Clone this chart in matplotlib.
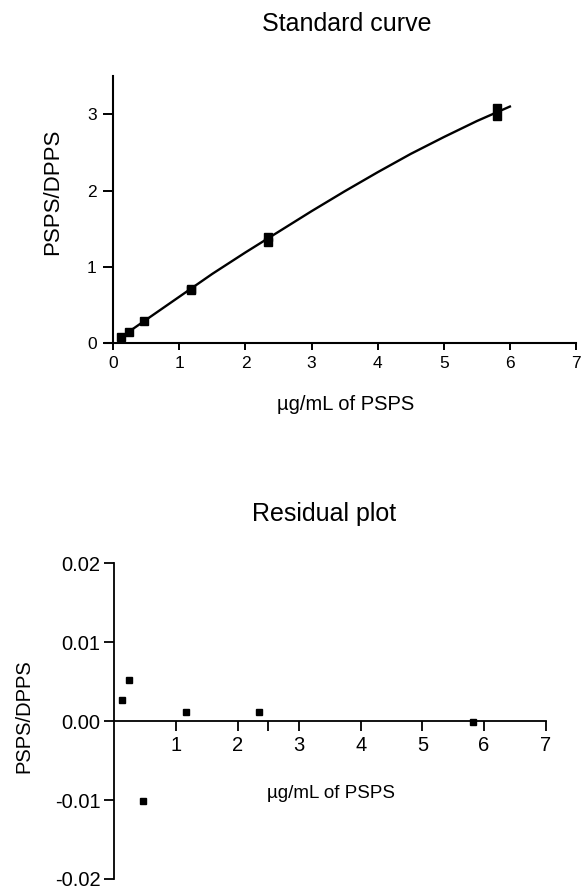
import numpy as np
import matplotlib.pyplot as plt

plt.rcParams['font.family'] = ['Liberation Sans', 'DejaVu Sans']

# standard curve: measured points (duplicates at each concentration)
conc = [0.12, 0.24, 0.47, 1.17, 1.17, 2.34, 2.34, 5.81, 5.81]
ratio = [0.08, 0.15, 0.29, 0.71, 0.70, 1.39, 1.33, 3.08, 2.97]

# fitted curve
fit_x = [0.10, 0.5, 1.0, 1.5, 2.0, 2.5, 3.0, 3.5, 4.0, 4.5, 5.0, 5.5, 6.0]
fit_y = [0.07, 0.31, 0.61, 0.91, 1.19, 1.46, 1.73, 1.99, 2.24, 2.48, 2.70, 2.91, 3.10]

# residuals
res_x = [0.12, 0.24, 0.47, 1.17, 2.34, 5.82]
res_y = [0.0027, 0.0052, -0.0101, 0.0012, 0.0012, -0.0001]

W, H = 583, 889
fig = plt.figure(figsize=(W / 100, H / 100), dpi=100)


def fx(px):
    return px / W


def fy(py):
    return 1 - py / H


# ---- top panel ----
ax1 = fig.add_axes([fx(105.3), fy(343.3), fx(576) - fx(105.3), fy(76) - fy(343.3)])
ax1.plot(fit_x, fit_y, color='black', lw=1.7, zorder=2)
ax1.plot(conc, ratio, 's', color='black', ms=5.2, zorder=3)
ax1.set_xlim(-0.12, 7)
ax1.set_ylim(0, 3.5)
ax1.spines['left'].set_position(('data', 0))
ax1.spines['top'].set_visible(False)
ax1.spines['right'].set_visible(False)
for s in ('left', 'bottom'):
    ax1.spines[s].set_linewidth(1.5)
ax1.set_xticks(range(0, 8))
ax1.set_yticks(range(0, 4))
ax1.tick_params(axis='x', length=5, width=1.4, pad=4, labelsize=12.5)
ax1.tick_params(axis='y', length=7, width=1.4, pad=5, labelsize=12.5)

fig.text(fx(347), fy(31), 'Standard curve', ha='center', va='baseline', fontsize=18)
fig.text(fx(346), fy(410), 'µg/mL of PSPS', ha='center', va='baseline', fontsize=14.5)
fig.text(fx(53), fy(192), 'PSPS/DPPS', ha='center', va='center', rotation=90, fontsize=16)

# ---- residual panel ----
ax2 = fig.add_axes([fx(114.3), fy(879), fx(545.7) - fx(114.3), fy(563.3) - fy(879)])
ax2.plot(res_x, res_y, 's', color='black', ms=4.5)
ax2.set_xlim(0, 7)
ax2.set_ylim(-0.02, 0.02)
ax2.spines['bottom'].set_position(('data', 0))
ax2.spines['top'].set_visible(False)
ax2.spines['right'].set_visible(False)
for s in ('left', 'bottom'):
    ax2.spines[s].set_linewidth(1.3)
ax2.set_xticks(range(1, 8))
ax2.set_xticks([2.5], minor=True)
ax2.set_yticks([0.02, 0.01, 0.0, -0.01, -0.02])
ax2.set_yticklabels(['0.02', '0.01', '0.00', '-0.01', '-0.02'])
ax2.tick_params(axis='x', which='both', length=7, width=1.3, pad=4, labelsize=14.5)
ax2.tick_params(axis='y', length=7, width=1.3, pad=3, labelsize=14.5)

fig.text(fx(324), fy(521), 'Residual plot', ha='center', va='baseline', fontsize=18)
fig.text(fx(331), fy(798), 'µg/mL of PSPS', ha='center', va='baseline', fontsize=13.5)
fig.text(fx(24), fy(716), 'PSPS/DPPS', ha='center', va='center', rotation=90, fontsize=14.5)

fig.savefig('out.png', dpi=100)
